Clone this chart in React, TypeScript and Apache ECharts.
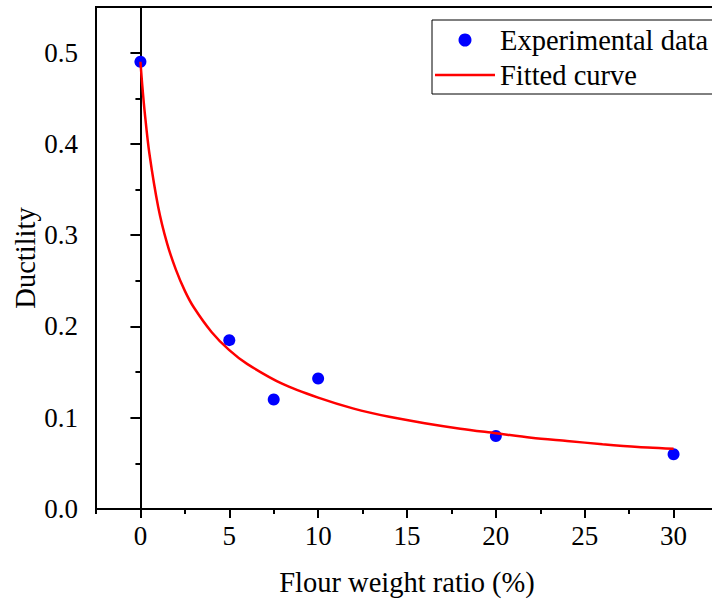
import React, { useEffect, useRef } from "react";
import * as echarts from "echarts";

const expX = [0, 5, 7.5, 10, 20, 30];
const expY = [0.49, 0.185, 0.12, 0.143, 0.08, 0.06];

const fitX = [0, 0.1, 0.25, 0.5, 1, 1.5, 2, 2.5, 3, 4, 5, 6, 8, 10, 12, 14, 16, 18, 20, 22, 24, 26, 28, 30];
const fitY = [0.49, 0.465, 0.433, 0.39, 0.331, 0.291, 0.262, 0.239, 0.221, 0.194, 0.174, 0.159, 0.137, 0.122, 0.11, 0.101, 0.094, 0.088, 0.083, 0.078, 0.0745, 0.071, 0.068, 0.066];

const seriesNames = ["Experimental data", "Fitted curve"];
const xTitle = "Flour weight ratio (%)";
const yTitle = "Ductility";

const FONT = "'Liberation Serif', 'Times New Roman', serif";

export default function App() {
  const ref = useRef<HTMLDivElement>(null);
  useEffect(() => {
    if (!ref.current) return;
    const chart = echarts.init(ref.current, undefined, { renderer: "svg" });
    const axisLine = { show: true, lineStyle: { color: "#000", width: 2 } };
    const tickStyle = { color: "#000", fontSize: 27, fontFamily: FONT };
    const titleStyle = { color: "#000", fontSize: 28.5, fontFamily: FONT };
    chart.setOption({
      animation: false,
      backgroundColor: "#fff",
      grid: {
        left: 96,
        top: 7,
        right: 12,
        bottom: 90,
        containLabel: false,
        outerBoundsMode: "none",
        show: true,
        borderColor: "#000",
        borderWidth: 2,
        backgroundColor: "transparent",
      },
      legend: {
        left: 432,
        top: 20,
        orient: "vertical",
        align: "left",
        borderColor: "#000",
        borderWidth: 1,
        padding: [5, 30, 4, 3],
        itemWidth: 60,
        itemHeight: 13,
        itemGap: 5,
        symbolKeepAspect: true,
        textStyle: { ...titleStyle, lineHeight: 30 },
        data: [
          { name: seriesNames[0], icon: "circle", itemStyle: { color: "#0000FF", opacity: 1 } },
          { name: seriesNames[1], icon: "path://M0 0H60V2.5H0Z" },
        ],
      },
      xAxis: [
        {
          type: "value",
          min: -2.5,
          max: 32.5,
          splitNumber: 7,
          position: "bottom",
          axisLine,
          axisTick: { show: true, length: 9, lineStyle: { color: "#000", width: 2 } },
          axisLabel: {
            ...tickStyle,
            margin: 13,
            showMinLabel: false,
            showMaxLabel: false,
            formatter: (v: number) => (v % 5 === 0 ? String(v) : ""),
          },
          splitLine: { show: false },
          name: xTitle,
          nameLocation: "middle",
          nameGap: 59,
          nameMoveOverlap: false,
          nameTextStyle: titleStyle,
        },
        {
          type: "value",
          min: -2.5,
          max: 32.5,
          interval: 2.5,
          position: "bottom",
          axisLine: { show: false },
          axisTick: { show: true, length: 5, lineStyle: { color: "#000", width: 2 } },
          axisLabel: { show: false },
          splitLine: { show: false },
        },
      ],
      yAxis: [
        {
          type: "value",
          min: 0,
          max: 0.55,
          interval: 0.1,
          position: "left",
          axisLine,
          axisTick: { show: true, length: 10, lineStyle: { color: "#000", width: 2 } },
          axisLabel: {
            ...tickStyle,
            margin: 18,
            showMaxLabel: false,
            formatter: (v: number) => v.toFixed(1),
          },
          splitLine: { show: false },
          name: yTitle,
          nameLocation: "middle",
          nameGap: 56,
          nameMoveOverlap: false,
          nameTextStyle: titleStyle,
        },
        {
          type: "value",
          min: 0,
          max: 0.55,
          interval: 0.05,
          position: "left",
          axisLine: { show: false },
          axisTick: { show: true, length: 5, lineStyle: { color: "#000", width: 2 } },
          axisLabel: { show: false },
          splitLine: { show: false },
        },
      ],
      series: [
        {
          name: seriesNames[0],
          type: "scatter",
          xAxisIndex: 0,
          yAxisIndex: 0,
          symbol: "circle",
          symbolSize: 12,
          itemStyle: { color: "#0000FF", opacity: 1 },
          data: expX.map((x, i) => [x, expY[i]]),
          z: 2,
        },
        {
          name: seriesNames[1],
          type: "line",
          xAxisIndex: 0,
          yAxisIndex: 0,
          symbol: "none",
          smooth: 0.3,
          lineStyle: { color: "#FF0000", width: 2.5 },
          itemStyle: { color: "#FF0000" },
          data: fitX.map((x, i) => [x, fitY[i]]),
          z: 3,
        },
      ],
    });
    return () => chart.dispose();
  }, []);
  return (
    <div
      style={{
        position: "fixed",
        left: 0,
        top: 0,
        width: 712,
        height: 599,
        overflow: "hidden",
        background: "#fff",
      }}
    >
      <div ref={ref} style={{ width: 730, height: 599 }} />
    </div>
  );
}
